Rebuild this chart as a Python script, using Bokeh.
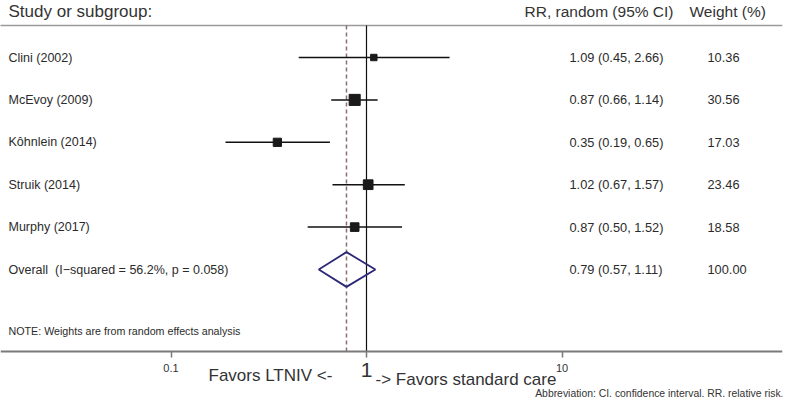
import math
from bokeh.plotting import figure
from bokeh.models import Range1d, Label, FixedTicker
from bokeh.embed import file_html
from bokeh.resources import INLINE

# ---- data ----
studies = ["Clini (2002)", "McEvoy (2009)", "Kôhnlein (2014)", "Struik (2014)", "Murphy (2017)"]
rr = [1.09, 0.87, 0.35, 1.02, 0.87]
lo = [0.45, 0.66, 0.19, 0.67, 0.50]
hi = [2.66, 1.14, 0.65, 1.57, 1.52]
weights = [10.36, 30.56, 17.03, 23.46, 18.58]
overall_label = "Overall\u00a0\u00a0(I\u2212squared = 56.2%, p = 0.058)"
overall_rr, overall_lo, overall_hi = 0.79, 0.57, 1.11
overall_weight = 100.00
tick_values = [0.1, 1, 10]
tick_labels = {0.1: "0.1", 1: "", 10: "10"}

FONT = "Liberation Sans"
TXT = "#2b2b2b"

W, H = 784, 397
PPD = 195.5
X0 = 366.0
FRAME_W = 782
ROW0, ROWH = 57.0, 42.4


def xval(px):
    return 10 ** ((px - X0) / PPD)


def ypx(px):
    return (px - ROW0) / ROWH


p = figure(width=W, height=H, x_axis_type="log", output_backend="svg",
           toolbar_location=None, min_border_left=0, min_border_top=0,
           min_border_right=W - FRAME_W, min_border_bottom=0,
           x_range=Range1d(xval(0), xval(FRAME_W)),
           y_range=Range1d(ypx(H), ypx(0)))
p.outline_line_color = None
p.grid.visible = False
p.yaxis.visible = False
p.background_fill_color = "white"
p.border_fill_color = "white"

AXIS_Y = ypx(351)
ax = p.xaxis[0]
ax.fixed_location = AXIS_Y
ax.ticker = FixedTicker(ticks=tick_values)
ax.major_label_overrides = tick_labels
ax.minor_tick_line_color = None
ax.axis_line_color = "#7a7a7a"
ax.axis_line_width = 2
ax.major_tick_line_color = "#7a7a7a"
ax.major_tick_line_width = 1.5
ax.major_tick_in = 0
ax.major_tick_out = 6
ax.major_label_standoff = 6
ax.major_label_text_font = FONT
ax.major_label_text_font_size = "11px"
ax.major_label_text_color = "#333333"

rows = list(range(len(studies)))
overall_row = len(studies)
LINE_Y = ypx(25)

p.segment(x0=[xval(-10)], x1=[xval(FRAME_W)], y0=[LINE_Y], y1=[LINE_Y],
          line_color="#9a9a9a", line_width=1.5)
p.segment(x0=[1], x1=[1], y0=[LINE_Y], y1=[AXIS_Y], line_color="#111111", line_width=1.2)
p.segment(x0=[overall_rr], x1=[overall_rr], y0=[LINE_Y], y1=[AXIS_Y],
          line_color="#8c6f6f", line_width=1.5, line_dash="4 3")

p.segment(x0=lo, x1=hi, y0=rows, y1=rows, line_color="#111111", line_width=1.5)
sizes = [2.0 * math.sqrt(w) for w in weights]
p.scatter(x=rr, y=rows, size=sizes, marker="square", fill_color="#1a1a1a",
          line_color="#1a1a1a")

dh = 0.41
p.patch(x=[overall_lo, overall_rr, overall_hi, overall_rr],
        y=[overall_row, overall_row - dh, overall_row, overall_row + dh],
        fill_color=None, line_color="#2c2878", line_width=1.8)


def lab(x, y, text, size, align="left", color=TXT, baseline="middle"):
    p.add_layout(Label(x=x, y=y, text=text, text_font=FONT, text_font_size=size,
                       text_align=align, text_baseline=baseline, text_color=color))


lab(xval(8), ypx(11), "Study or subgroup:", "17px", color="#333333")
lab(xval(524), ypx(11), "RR, random (95% CI)", "15.5px", color="#333333")
lab(xval(689), ypx(11), "Weight (%)", "15.5px", color="#333333")

for i, s in enumerate(studies):
    lab(xval(8), i, s, "12.5px")
    lab(xval(569), i, f"{rr[i]:.2f} ({lo[i]:.2f}, {hi[i]:.2f})", "12.8px")
    lab(xval(707), i, f"{weights[i]:.2f}", "12.8px")

lab(xval(8), overall_row, overall_label, "12.5px")
lab(xval(569), overall_row, f"{overall_rr:.2f} ({overall_lo:.2f}, {overall_hi:.2f})", "12.8px")
lab(xval(707), overall_row, f"{overall_weight:.2f}", "12.8px")

lab(xval(8), ypx(330), "NOTE: Weights are from random effects analysis", "10.7px")

lab(xval(208), ypx(375), "Favors LTNIV <-", "17px", color="#333333")
lab(1, ypx(369), "1", "21px", align="center", color="#333333")
lab(xval(375), ypx(379), "-> Favors standard care", "17px", color="#333333")
lab(xval(783), ypx(392.5), "Abbreviation: CI, confidence interval. RR, relative risk.", "10.4px",
    align="right", color="#333333")

open("out.html", "w").write(file_html(p, INLINE))
